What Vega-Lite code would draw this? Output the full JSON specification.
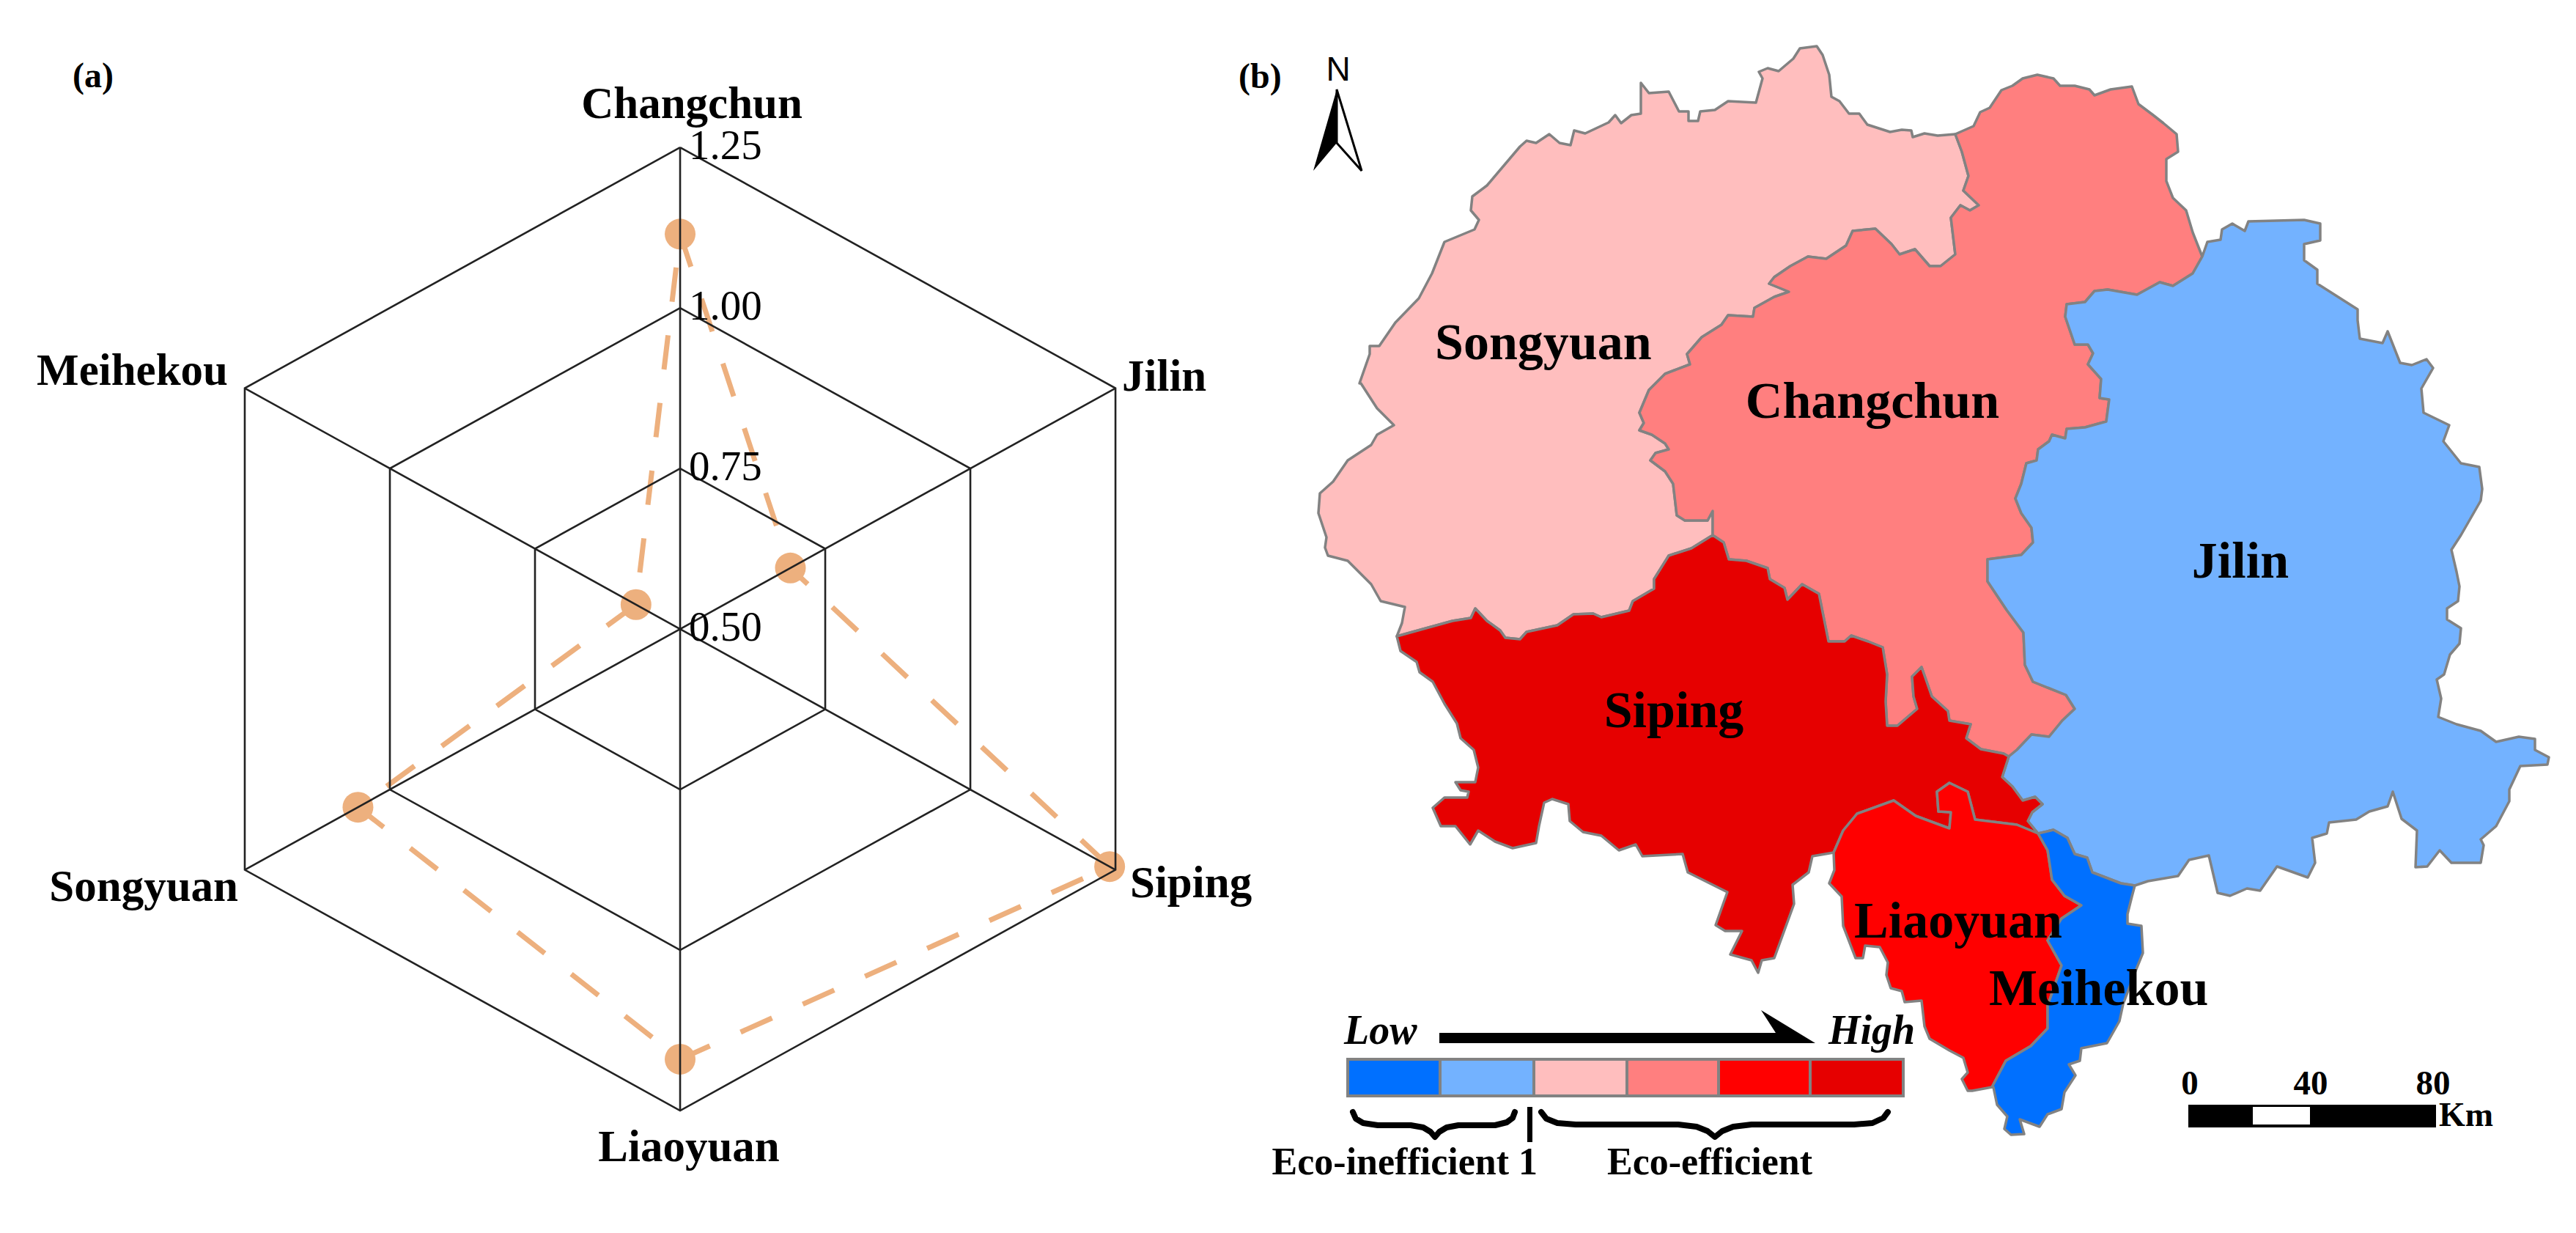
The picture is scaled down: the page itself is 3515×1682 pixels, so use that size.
{"$schema":"https://vega.github.io/schema/vega-lite/v6.json","background":"white","padding":0,"spacing":0,"bounds":"flush","config":{"view":{"stroke":null},"text":{"font":"Liberation Serif","color":"black","baseline":"alphabetic"}},
"datasets":{
"grid":[
{"s":"r0.75","v":0.75,"a":0,"k":0},{"s":"r0.75","v":0.75,"a":60,"k":1},{"s":"r0.75","v":0.75,"a":120,"k":2},{"s":"r0.75","v":0.75,"a":180,"k":3},{"s":"r0.75","v":0.75,"a":240,"k":4},{"s":"r0.75","v":0.75,"a":300,"k":5},{"s":"r0.75","v":0.75,"a":360,"k":6},
{"s":"r1.00","v":1.0,"a":0,"k":0},{"s":"r1.00","v":1.0,"a":60,"k":1},{"s":"r1.00","v":1.0,"a":120,"k":2},{"s":"r1.00","v":1.0,"a":180,"k":3},{"s":"r1.00","v":1.0,"a":240,"k":4},{"s":"r1.00","v":1.0,"a":300,"k":5},{"s":"r1.00","v":1.0,"a":360,"k":6},
{"s":"r1.25","v":1.25,"a":0,"k":0},{"s":"r1.25","v":1.25,"a":60,"k":1},{"s":"r1.25","v":1.25,"a":120,"k":2},{"s":"r1.25","v":1.25,"a":180,"k":3},{"s":"r1.25","v":1.25,"a":240,"k":4},{"s":"r1.25","v":1.25,"a":300,"k":5},{"s":"r1.25","v":1.25,"a":360,"k":6},
{"s":"Changchun","v":0.5,"a":0,"k":0},{"s":"Changchun","v":1.25,"a":0,"k":1},
{"s":"Jilin","v":0.5,"a":60,"k":0},{"s":"Jilin","v":1.25,"a":60,"k":1},
{"s":"Siping","v":0.5,"a":120,"k":0},{"s":"Siping","v":1.25,"a":120,"k":1},
{"s":"Liaoyuan","v":0.5,"a":180,"k":0},{"s":"Liaoyuan","v":1.25,"a":180,"k":1},
{"s":"Songyuan","v":0.5,"a":240,"k":0},{"s":"Songyuan","v":1.25,"a":240,"k":1},
{"s":"Meihekou","v":0.5,"a":300,"k":0},{"s":"Meihekou","v":1.25,"a":300,"k":1}],
"eff":[{"city":"Changchun","v":1.115,"a":0,"k":0},{"city":"Jilin","v":0.69,"a":60,"k":1},{"city":"Siping","v":1.24,"a":120,"k":2},{"city":"Liaoyuan","v":1.17,"a":180,"k":3},{"city":"Songyuan","v":1.055,"a":240,"k":4},{"city":"Meihekou","v":0.576,"a":300,"k":5},{"city":"Changchun","v":1.115,"a":360,"k":6}],
"ticks":[{"v":0.5},{"v":0.75},{"v":1.0},{"v":1.25}],
"regions":[
{"type":"Feature","properties":{"name":"Songyuan","rank":3},"geometry":{"type":"Polygon","coordinates":[[[1855,523],[1869,483],[1869,472],[1882,472],[1904,440],[1936,407],[1954,373],[1971,330],[2012,313],[2018,300],[2007,287],[2009,268],[2029,253],[2074,200],[2083,192],[2096,195],[2114,183],[2128,195],[2143,198],[2148,178],[2163,182],[2195,167],[2204,157],[2212,168],[2226,157],[2239,155],[2239,113],[2250,127],[2277,125],[2291,152],[2304,152],[2304,165],[2317,165],[2320,152],[2340,150],[2358,138],[2396,140],[2405,107],[2400,98],[2412,93],[2427,97],[2447,80],[2456,66],[2479,63],[2487,75],[2496,102],[2499,132],[2510,138],[2523,155],[2537,155],[2548,170],[2579,180],[2595,177],[2608,178],[2610,187],[2626,182],[2644,185],[2668,183],[2677,207],[2686,240],[2679,260],[2700,280],[2688,287],[2675,280],[2662,297],[2668,347],[2648,363],[2633,363],[2613,340],[2592,347],[2581,333],[2559,312],[2528,315],[2519,335],[2492,353],[2467,350],[2443,363],[2421,378],[2414,387],[2441,398],[2421,405],[2394,420],[2392,432],[2358,430],[2349,443],[2322,460],[2302,483],[2306,497],[2285,505],[2272,510],[2250,532],[2237,563],[2243,577],[2237,587],[2254,593],[2272,605],[2277,613],[2259,618],[2252,628],[2272,643],[2283,660],[2288,703],[2299,710],[2330,710],[2337,697],[2337,730],[2308,748],[2277,758],[2257,790],[2257,803],[2228,820],[2223,833],[2185,842],[2174,837],[2147,838],[2125,853],[2083,862],[2074,872],[2054,870],[2047,860],[2029,847],[2013,830],[2007,843],[1982,847],[1942,858],[1906,868],[1913,850],[1917,828],[1884,820],[1871,797],[1839,765],[1812,758],[1808,747],[1810,733],[1799,700],[1801,673],[1819,657],[1839,628],[1871,607],[1879,593],[1902,580],[1879,557],[1857,523],[1855,523]]]}},
{"type":"Feature","properties":{"name":"Changchun","rank":4},"geometry":{"type":"Polygon","coordinates":[[[2668,183],[2693,172],[2702,153],[2715,147],[2731,123],[2746,117],[2760,107],[2780,102],[2802,107],[2811,117],[2831,117],[2851,122],[2858,130],[2880,122],[2909,118],[2918,142],[2938,157],[2952,168],[2970,183],[2972,207],[2956,217],[2956,247],[2965,270],[2983,287],[2992,317],[3005,350],[2992,373],[2965,390],[2947,385],[2916,402],[2876,395],[2858,397],[2845,412],[2820,415],[2818,432],[2831,470],[2849,470],[2856,482],[2849,497],[2867,517],[2865,543],[2878,545],[2874,575],[2845,583],[2820,585],[2818,598],[2800,593],[2796,602],[2781,613],[2779,628],[2765,632],[2758,660],[2750,680],[2758,700],[2772,720],[2774,740],[2758,757],[2712,763],[2712,793],[2738,832],[2761,863],[2763,907],[2774,930],[2819,948],[2831,967],[2814,983],[2796,1005],[2772,1002],[2752,1023],[2741,1032],[2734,1028],[2703,1022],[2683,1007],[2689,988],[2660,983],[2658,970],[2636,950],[2622,910],[2609,923],[2611,950],[2616,967],[2589,990],[2575,990],[2573,957],[2575,920],[2569,883],[2549,875],[2526,867],[2517,875],[2495,875],[2488,840],[2482,810],[2459,797],[2439,818],[2435,802],[2415,790],[2412,775],[2383,765],[2359,763],[2352,740],[2337,730],[2337,697],[2330,710],[2299,710],[2288,703],[2283,660],[2272,643],[2252,628],[2259,618],[2277,613],[2272,605],[2254,593],[2237,587],[2243,577],[2237,563],[2250,532],[2272,510],[2285,505],[2306,497],[2302,483],[2322,460],[2349,443],[2358,430],[2392,432],[2394,420],[2421,405],[2441,398],[2414,387],[2421,378],[2443,363],[2467,350],[2492,353],[2519,335],[2528,315],[2559,312],[2581,333],[2592,347],[2613,340],[2633,363],[2648,363],[2668,347],[2662,297],[2675,280],[2688,287],[2700,280],[2679,260],[2686,240],[2677,207],[2668,183]]]}},
{"type":"Feature","properties":{"name":"Jilin","rank":2},"geometry":{"type":"Polygon","coordinates":[[[3005,350],[2992,373],[2965,390],[2947,385],[2916,402],[2876,395],[2858,397],[2845,412],[2820,415],[2818,432],[2831,470],[2849,470],[2856,482],[2849,497],[2867,517],[2865,543],[2878,545],[2874,575],[2845,583],[2820,585],[2818,598],[2800,593],[2796,602],[2781,613],[2779,628],[2765,632],[2758,660],[2750,680],[2758,700],[2772,720],[2774,740],[2758,757],[2712,763],[2712,793],[2738,832],[2761,863],[2763,907],[2774,930],[2819,948],[2831,967],[2814,983],[2796,1005],[2772,1002],[2752,1023],[2741,1032],[2732,1060],[2746,1073],[2760,1092],[2777,1087],[2787,1097],[2773,1108],[2767,1120],[2781,1137],[2802,1132],[2821,1143],[2831,1165],[2848,1170],[2855,1190],[2894,1205],[2913,1208],[2931,1202],[2972,1195],[2987,1173],[3014,1167],[3026,1218],[3043,1222],[3066,1212],[3084,1215],[3107,1182],[3149,1197],[3159,1177],[3155,1143],[3175,1137],[3178,1122],[3215,1118],[3233,1107],[3258,1100],[3265,1080],[3277,1117],[3298,1133],[3296,1183],[3312,1182],[3329,1160],[3345,1177],[3385,1177],[3389,1153],[3385,1145],[3406,1127],[3424,1093],[3424,1077],[3439,1045],[3476,1043],[3478,1033],[3459,1023],[3459,1008],[3437,1005],[3406,1012],[3385,997],[3352,988],[3327,978],[3331,953],[3325,927],[3335,920],[3343,893],[3356,878],[3358,857],[3339,845],[3339,830],[3354,820],[3356,800],[3352,780],[3345,750],[3358,730],[3385,683],[3387,667],[3383,637],[3358,632],[3334,602],[3342,580],[3307,563],[3304,530],[3320,502],[3311,490],[3291,498],[3275,495],[3258,452],[3251,468],[3220,462],[3217,437],[3217,422],[3162,387],[3162,368],[3144,355],[3144,333],[3166,328],[3166,305],[3144,300],[3068,302],[3063,315],[3046,305],[3032,313],[3030,327],[3012,330],[3005,350]]]}},
{"type":"Feature","properties":{"name":"Siping","rank":6},"geometry":{"type":"Polygon","coordinates":[[[2741,1032],[2734,1028],[2703,1022],[2683,1007],[2689,988],[2660,983],[2658,970],[2636,950],[2622,910],[2609,923],[2611,950],[2616,967],[2589,990],[2575,990],[2573,957],[2575,920],[2569,883],[2549,875],[2526,867],[2517,875],[2495,875],[2488,840],[2482,810],[2459,797],[2439,818],[2435,802],[2415,790],[2412,775],[2383,765],[2359,763],[2352,740],[2337,730],[2308,748],[2277,758],[2257,790],[2257,803],[2228,820],[2223,833],[2185,842],[2174,837],[2147,838],[2125,853],[2083,862],[2074,872],[2054,870],[2047,860],[2029,847],[2013,830],[2007,843],[1982,847],[1942,858],[1906,868],[1911,888],[1933,903],[1937,917],[1955,930],[1971,960],[1988,987],[1993,1007],[2011,1023],[2017,1047],[2013,1067],[1986,1067],[1993,1078],[2004,1080],[2002,1088],[1971,1088],[1955,1102],[1966,1127],[1986,1127],[2006,1152],[2017,1133],[2040,1148],[2064,1157],[2096,1150],[2100,1127],[2107,1095],[2118,1090],[2140,1097],[2142,1120],[2160,1135],[2185,1140],[2209,1160],[2232,1152],[2241,1168],[2296,1165],[2303,1190],[2357,1217],[2341,1262],[2354,1270],[2377,1270],[2361,1302],[2390,1310],[2399,1327],[2404,1310],[2421,1307],[2448,1233],[2446,1207],[2468,1190],[2473,1168],[2502,1163],[2515,1133],[2534,1110],[2584,1092],[2614,1113],[2660,1130],[2662,1108],[2645,1107],[2643,1080],[2660,1068],[2685,1080],[2695,1118],[2752,1125],[2781,1137],[2767,1120],[2773,1108],[2787,1097],[2777,1087],[2760,1092],[2746,1073],[2732,1060],[2741,1032]]]}},
{"type":"Feature","properties":{"name":"Liaoyuan","rank":5},"geometry":{"type":"Polygon","coordinates":[[[2502,1163],[2515,1133],[2534,1110],[2584,1092],[2614,1113],[2660,1130],[2662,1108],[2645,1107],[2643,1080],[2660,1068],[2685,1080],[2695,1118],[2752,1125],[2781,1137],[2794,1160],[2800,1200],[2817,1222],[2840,1235],[2813,1253],[2794,1283],[2813,1317],[2794,1372],[2794,1403],[2771,1427],[2737,1447],[2718,1483],[2691,1488],[2685,1488],[2677,1472],[2685,1463],[2679,1443],[2660,1433],[2633,1417],[2626,1400],[2622,1365],[2599,1367],[2595,1352],[2580,1348],[2574,1330],[2576,1313],[2565,1292],[2545,1290],[2542,1307],[2532,1307],[2515,1263],[2513,1223],[2496,1205],[2503,1187],[2502,1163]]]}},
{"type":"Feature","properties":{"name":"Meihekou","rank":1},"geometry":{"type":"Polygon","coordinates":[[[2781,1137],[2802,1132],[2821,1143],[2831,1165],[2848,1170],[2855,1190],[2894,1205],[2913,1208],[2909,1223],[2903,1247],[2903,1260],[2922,1263],[2924,1300],[2913,1327],[2897,1370],[2892,1393],[2875,1423],[2840,1430],[2838,1447],[2823,1452],[2832,1467],[2817,1490],[2813,1513],[2794,1520],[2783,1537],[2756,1527],[2762,1547],[2744,1548],[2735,1540],[2739,1523],[2725,1507],[2720,1483],[2718,1483],[2737,1447],[2771,1427],[2794,1403],[2794,1372],[2813,1317],[2794,1283],[2813,1253],[2840,1235],[2817,1222],[2800,1200],[2794,1160],[2781,1137]]]}}],
"swatches":[
{"type":"Feature","properties":{"rank":1},"geometry":{"type":"Polygon","coordinates":[[[1839,1445],[1965,1445],[1965,1495],[1839,1495],[1839,1445]]]}},
{"type":"Feature","properties":{"rank":2},"geometry":{"type":"Polygon","coordinates":[[[1965,1445],[2093,1445],[2093,1495],[1965,1495],[1965,1445]]]}},
{"type":"Feature","properties":{"rank":3},"geometry":{"type":"Polygon","coordinates":[[[2093,1445],[2220,1445],[2220,1495],[2093,1495],[2093,1445]]]}},
{"type":"Feature","properties":{"rank":4},"geometry":{"type":"Polygon","coordinates":[[[2220,1445],[2345,1445],[2345,1495],[2220,1495],[2220,1445]]]}},
{"type":"Feature","properties":{"rank":5},"geometry":{"type":"Polygon","coordinates":[[[2345,1445],[2470,1445],[2470,1495],[2345,1495],[2345,1445]]]}},
{"type":"Feature","properties":{"rank":6},"geometry":{"type":"Polygon","coordinates":[[[2470,1445],[2597,1445],[2597,1495],[2470,1495],[2470,1445]]]}}],
"ink":[
{"type":"Feature","properties":{"part":"legend arrow"},"geometry":{"type":"Polygon","coordinates":[[[1964,1409],[2423,1409],[2403,1378],[2477,1423],[1964,1423],[1964,1409]]]}},
{"type":"Feature","properties":{"part":"north arrow"},"geometry":{"type":"Polygon","coordinates":[[[1824,122],[1792,233],[1824,195],[1824,122]]]}},
{"type":"Feature","properties":{"part":"scale bar"},"geometry":{"type":"Polygon","coordinates":[[[2986,1507],[3324,1507],[3324,1538],[2986,1538],[2986,1507]]]}},
{"type":"Feature","properties":{"part":"divider"},"geometry":{"type":"Polygon","coordinates":[[[2084,1510],[2091,1510],[2091,1558],[2084,1558],[2084,1510]]]}}],
"paper":[
{"type":"Feature","properties":{"part":"scale gap"},"geometry":{"type":"Polygon","coordinates":[[[3074,1510],[3152,1510],[3152,1534],[3074,1534],[3074,1510]]]}}],
"outline":[
{"type":"Feature","properties":{"part":"north arrow"},"geometry":{"type":"Polygon","coordinates":[[[1824,122],[1858,233],[1824,195],[1824,122]]]}}],
"braces":[
{"type":"Feature","properties":{"part":"inefficient"},"geometry":{"type":"LineString","coordinates":[[1846,1517],[1850,1526],[1860,1532],[1880,1535],[1925,1535],[1942,1538],[1952,1544],[1958,1551],[1964,1544],[1974,1538],[1990,1535],[2040,1535],[2056,1531],[2064,1525],[2067,1517]]}},
{"type":"Feature","properties":{"part":"efficient"},"geometry":{"type":"LineString","coordinates":[[2103,1517],[2110,1526],[2125,1532],[2150,1534],[2290,1534],[2315,1537],[2330,1543],[2340,1551],[2350,1543],[2365,1537],[2390,1534],[2530,1534],[2555,1532],[2570,1525],[2576,1517]]}}]
},
"hconcat":[
{"width":1680,"height":1682,
"layer":[
{"data":{"name":"eff"},"transform":[{"calculate":"(datum.v-0.5)*sin(datum.a*PI/180)","as":"x"},{"calculate":"(datum.v-0.5)*cos(datum.a*PI/180)","as":"y"}],"mark":{"type":"line","stroke":"#EDB07E","strokeWidth":7,"strokeDash":[47,46]},"encoding":{"x":{"field":"x","type":"quantitative","scale":{"domain":[-1.0147,0.8222],"nice":false},"axis":null},"y":{"field":"y","type":"quantitative","scale":{"domain":[-0.9406,0.9795],"nice":false},"axis":null},"order":{"field":"k"}}},
{"data":{"name":"eff"},"transform":[{"filter":"datum.k<6"},{"calculate":"(datum.v-0.5)*sin(datum.a*PI/180)","as":"x"},{"calculate":"(datum.v-0.5)*cos(datum.a*PI/180)","as":"y"}],"mark":{"type":"point","filled":true,"shape":"circle","size":1764,"color":"#EDB07E","opacity":1},"encoding":{"x":{"field":"x","type":"quantitative","scale":{"domain":[-1.0147,0.8222],"nice":false},"axis":null},"y":{"field":"y","type":"quantitative","scale":{"domain":[-0.9406,0.9795],"nice":false},"axis":null}}},
{"data":{"name":"grid"},"transform":[{"calculate":"(datum.v-0.5)*sin(datum.a*PI/180)","as":"x"},{"calculate":"(datum.v-0.5)*cos(datum.a*PI/180)","as":"y"}],"mark":{"type":"line","stroke":"#222222","strokeWidth":2.6},"encoding":{"x":{"field":"x","type":"quantitative","scale":{"domain":[-1.0147,0.8222],"nice":false},"axis":null},"y":{"field":"y","type":"quantitative","scale":{"domain":[-0.9406,0.9795],"nice":false},"axis":null},"detail":{"field":"s"},"order":{"field":"k"}}},
{"data":{"name":"ticks"},"transform":[{"calculate":"datum.v-0.5","as":"y"},{"calculate":"0","as":"x"}],"mark":{"type":"text","align":"left","dx":12,"dy":16,"fontSize":57,"font":"Liberation Serif"},"encoding":{"x":{"field":"x","type":"quantitative","scale":{"domain":[-1.0147,0.8222],"nice":false},"axis":null},"y":{"field":"y","type":"quantitative","scale":{"domain":[-0.9406,0.9795],"nice":false},"axis":null},"text":{"field":"v","type":"quantitative","format":".2f"}}},
{"data":{"values":[{"t":"Changchun"}]},"mark":{"type":"text","align":"center","fontSize":61,"fontWeight":"bold"},"encoding":{"x":{"datum":0.0175,"scale":{"domain":[-1.0147,0.8222],"nice":false},"axis":null},"y":{"datum":0.7957,"scale":{"domain":[-0.9406,0.9795],"nice":false},"axis":null},"text":{"field":"t"}}},
{"data":{"values":[{"t":"Meihekou"}]},"mark":{"type":"text","align":"right","fontSize":61,"fontWeight":"bold"},"encoding":{"x":{"datum":-0.6746,"scale":{"domain":[-1.0147,0.8222],"nice":false},"axis":null},"y":{"datum":0.3801,"scale":{"domain":[-0.9406,0.9795],"nice":false},"axis":null},"text":{"field":"t"}}},
{"data":{"values":[{"t":"Jilin"}]},"mark":{"type":"text","align":"left","fontSize":61,"fontWeight":"bold"},"encoding":{"x":{"datum":0.6593,"scale":{"domain":[-1.0147,0.8222],"nice":false},"axis":null},"y":{"datum":0.371,"scale":{"domain":[-0.9406,0.9795],"nice":false},"axis":null},"text":{"field":"t"}}},
{"data":{"values":[{"t":"Songyuan"}]},"mark":{"type":"text","align":"right","fontSize":61,"fontWeight":"bold"},"encoding":{"x":{"datum":-0.6593,"scale":{"domain":[-1.0147,0.8222],"nice":false},"axis":null},"y":{"datum":-0.4235,"scale":{"domain":[-0.9406,0.9795],"nice":false},"axis":null},"text":{"field":"t"}}},
{"data":{"values":[{"t":"Siping"}]},"mark":{"type":"text","align":"left","fontSize":61,"fontWeight":"bold"},"encoding":{"x":{"datum":0.6713,"scale":{"domain":[-1.0147,0.8222],"nice":false},"axis":null},"y":{"datum":-0.4178,"scale":{"domain":[-0.9406,0.9795],"nice":false},"axis":null},"text":{"field":"t"}}},
{"data":{"values":[{"t":"Liaoyuan"}]},"mark":{"type":"text","align":"center","fontSize":61,"fontWeight":"bold"},"encoding":{"x":{"datum":0.0131,"scale":{"domain":[-1.0147,0.8222],"nice":false},"axis":null},"y":{"datum":-0.8288,"scale":{"domain":[-0.9406,0.9795],"nice":false},"axis":null},"text":{"field":"t"}}},
{"data":{"values":[{"t":"(a)"}]},"mark":{"type":"text","align":"left","fontSize":48,"fontWeight":"bold"},"encoding":{"x":{"datum":-0.9064,"scale":{"domain":[-1.0147,0.8222],"nice":false},"axis":null},"y":{"datum":0.8436,"scale":{"domain":[-0.9406,0.9795],"nice":false},"axis":null},"text":{"field":"t"}}}
]},
{"width":1835,"height":1682,
"projection":{"type":"identity","scale":1,"translate":[-1680,0]},
"layer":[
{"data":{"name":"regions"},"mark":{"type":"geoshape","stroke":"#828282","strokeWidth":3.5,"strokeJoin":"round"},"encoding":{"fill":{"field":"properties.rank","type":"ordinal","scale":{"domain":[1,2,3,4,5,6],"range":["#0070FF","#73B2FF","#FFBEBE","#FF7F7F","#FF0000","#E60000"]},"legend":null}}},
{"data":{"name":"swatches"},"mark":{"type":"geoshape","stroke":"#828282","strokeWidth":4},"encoding":{"fill":{"field":"properties.rank","type":"ordinal","scale":{"domain":[1,2,3,4,5,6],"range":["#0070FF","#73B2FF","#FFBEBE","#FF7F7F","#FF0000","#E60000"]},"legend":null}}},
{"data":{"name":"ink"},"mark":{"type":"geoshape","fill":"black","stroke":null}},
{"data":{"name":"paper"},"mark":{"type":"geoshape","fill":"white","stroke":null}},
{"data":{"name":"outline"},"mark":{"type":"geoshape","fill":"white","stroke":"black","strokeWidth":3}},
{"data":{"name":"braces"},"mark":{"type":"geoshape","filled":false,"stroke":"black","strokeWidth":8,"strokeJoin":"round","strokeCap":"round"}},
{"data":{"values":[{"t":"Songyuan"}]},"mark":{"type":"text","align":"left","fontSize":70,"fontWeight":"bold"},"encoding":{"longitude":{"datum":1958},"latitude":{"datum":490},"text":{"field":"t"}}},
{"data":{"values":[{"t":"Changchun"}]},"mark":{"type":"text","align":"center","fontSize":70,"fontWeight":"bold"},"encoding":{"longitude":{"datum":2555},"latitude":{"datum":570},"text":{"field":"t"}}},
{"data":{"values":[{"t":"Jilin"}]},"mark":{"type":"text","align":"center","fontSize":70,"fontWeight":"bold"},"encoding":{"longitude":{"datum":3057},"latitude":{"datum":788},"text":{"field":"t"}}},
{"data":{"values":[{"t":"Siping"}]},"mark":{"type":"text","align":"center","fontSize":70,"fontWeight":"bold"},"encoding":{"longitude":{"datum":2284},"latitude":{"datum":992},"text":{"field":"t"}}},
{"data":{"values":[{"t":"Liaoyuan"}]},"mark":{"type":"text","align":"left","fontSize":70,"fontWeight":"bold"},"encoding":{"longitude":{"datum":2530},"latitude":{"datum":1279},"text":{"field":"t"}}},
{"data":{"values":[{"t":"Meihekou"}]},"mark":{"type":"text","align":"left","fontSize":70,"fontWeight":"bold"},"encoding":{"longitude":{"datum":2714},"latitude":{"datum":1371},"text":{"field":"t"}}},
{"data":{"values":[{"t":"(b)"}]},"mark":{"type":"text","align":"left","fontSize":48,"fontWeight":"bold"},"encoding":{"longitude":{"datum":1690},"latitude":{"datum":120},"text":{"field":"t"}}},
{"data":{"values":[{"t":"N"}]},"mark":{"type":"text","align":"center","fontSize":46,"font":"Liberation Sans"},"encoding":{"longitude":{"datum":1826},"latitude":{"datum":110},"text":{"field":"t"}}},
{"data":{"values":[{"t":"Low"}]},"mark":{"type":"text","align":"left","fontSize":56,"fontWeight":"bold","fontStyle":"italic"},"encoding":{"longitude":{"datum":1834},"latitude":{"datum":1424},"text":{"field":"t"}}},
{"data":{"values":[{"t":"High"}]},"mark":{"type":"text","align":"left","fontSize":56,"fontWeight":"bold","fontStyle":"italic"},"encoding":{"longitude":{"datum":2495},"latitude":{"datum":1424},"text":{"field":"t"}}},
{"data":{"values":[{"t":"Eco-inefficient 1"}]},"mark":{"type":"text","align":"right","fontSize":52,"fontWeight":"bold"},"encoding":{"longitude":{"datum":2098},"latitude":{"datum":1602},"text":{"field":"t"}}},
{"data":{"values":[{"t":"Eco-efficient"}]},"mark":{"type":"text","align":"left","fontSize":52,"fontWeight":"bold"},"encoding":{"longitude":{"datum":2193},"latitude":{"datum":1602},"text":{"field":"t"}}},
{"data":{"values":[{"t":"0"}]},"mark":{"type":"text","align":"center","fontSize":47,"fontWeight":"bold"},"encoding":{"longitude":{"datum":2988},"latitude":{"datum":1493},"text":{"field":"t"}}},
{"data":{"values":[{"t":"40"}]},"mark":{"type":"text","align":"center","fontSize":47,"fontWeight":"bold"},"encoding":{"longitude":{"datum":3153},"latitude":{"datum":1493},"text":{"field":"t"}}},
{"data":{"values":[{"t":"80"}]},"mark":{"type":"text","align":"center","fontSize":47,"fontWeight":"bold"},"encoding":{"longitude":{"datum":3320},"latitude":{"datum":1493},"text":{"field":"t"}}},
{"data":{"values":[{"t":"Km"}]},"mark":{"type":"text","align":"left","fontSize":46,"fontWeight":"bold"},"encoding":{"longitude":{"datum":3328},"latitude":{"datum":1536},"text":{"field":"t"}}}
]}
]}
